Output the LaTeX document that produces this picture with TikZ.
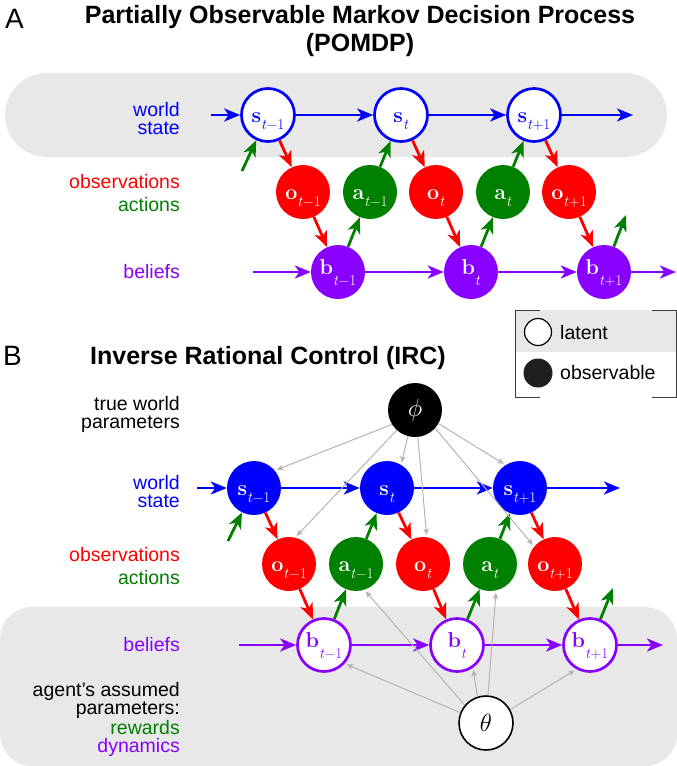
\documentclass[tikz,border=0pt]{standalone}
\usepackage{fontspec}
\newfontfamily\hv{Liberation Sans}
\newfontfamily\lmr{Latin Modern Roman}
\usetikzlibrary{arrows.meta}
\definecolor{cblue}{RGB}{0,0,255}
\definecolor{cred}{RGB}{255,0,0}
\definecolor{cgreen}{RGB}{0,128,0}
\definecolor{cpurple}{RGB}{136,0,255}
\definecolor{band}{RGB}{232,232,232}
\definecolor{garrow}{RGB}{180,180,180}
\definecolor{legline}{RGB}{60,60,60}
% variable with lowered subscript: letter, subscript, drop
\newcommand{\vsub}[3]{{\lmr\bfseries\fontsize{21.5}{24}\selectfont #1}\raisebox{-#3}{\lmr\fontsize{15}{15}\selectfont #2}}
\newcommand{\ti}{\textit{t}}
\tikzset{
  lbl/.style={font=\hv\fontsize{19.5}{18}\selectfont, align=right, anchor=base east, inner sep=0pt},
  ttl/.style={font=\hv\bfseries\fontsize{25}{28}\selectfont, anchor=base, inner sep=0pt},
  panel/.style={font=\hv\fontsize{28}{30}\selectfont, anchor=base west, inner sep=0pt},
  var/.style={circle, inner sep=0pt, font=\lmr\fontsize{20}{24}\selectfont},
  lowx/.style={text height=15pt, text depth=0pt},
  lowb/.style={text height=5pt, text depth=0pt},
  filled/.style={var, minimum size=54pt, fill=#1, text=white},
  hollow/.style={var, minimum size=53pt, draw=#1, line width=2.7pt, fill=white, text=#1},
  arr/.style={line width=2.8pt, draw=#1, -{Stealth[length=16pt,width=13pt,inset=4.5pt]}},
  garr/.style={draw=garrow, line width=1pt, -{Stealth[length=6.5pt,width=5.5pt,inset=1.5pt]}, shorten >=2pt},
  legtxt/.style={font=\hv\fontsize{19.5}{18}\selectfont, anchor=base west, inner sep=0pt},
  legl/.style={draw=legline, line width=1pt}
}
\begin{document}
\begin{tikzpicture}[x=1pt,y=-1pt]
\useasboundingbox (0,0) rectangle (677,766);
% bands
\fill[band, rounded corners=42pt] (5,73) rectangle (667,157);
\fill[band, rounded corners=32pt] (0,607) rectangle (677,766);
% titles
\node[panel] (lA) at (5,28) {A};
\node[ttl] (tA1) at (360,23) {Partially Observable Markov Decision Process};
\node[ttl] (tA2) at (360,51) {(POMDP)};
\node[panel] (lB) at (3,365) {B};
\node[ttl] (tB) at (268,364) {Inverse Rational Control (IRC)};
% legend
\fill[band] (515,310) rectangle (676,352);
\draw[legl] (540,310) -- (515,310) -- (515,397) -- (540,397);
\draw[legl] (652,310) -- (676,310) -- (676,397) -- (652,397);
\node[circle, draw=black, line width=1.2pt, fill=white, minimum size=27pt, inner sep=0pt] (legLat) at (538,332) {};
\node[circle, fill=black!88, minimum size=29pt, inner sep=0pt] (legObs) at (538,373) {};
\node[legtxt] (legLatT) at (560,339) {latent};
\node[legtxt] (legObsT) at (560,379) {observable};
% ---------- Panel A labels
\node[lbl, text=cblue] (Aws) at (180,134) {world\\state};
\node[lbl, text=cred] (Aobs) at (180,188) {observations};
\node[lbl, text=cgreen] (Aact) at (180,211) {actions};
\node[lbl, text=cpurple] (Abel) at (180,278) {beliefs};
% Panel A nodes
\node[hollow=cblue, lowx] (As1) at (268,115) {\vsub{s}{\ti−1}{6.5pt}};
\node[hollow=cblue, lowx] (As2) at (401,115) {\vsub{s}{\ti}{6.5pt}};
\node[hollow=cblue, lowx] (As3) at (534,115) {\vsub{s}{\ti+1}{6.5pt}};
\node[filled=cred, lowx] (Ao1) at (303,192) {\vsub{o}{\ti−1}{6.5pt}};
\node[filled=cgreen, lowx] (Aa1) at (370,192) {\vsub{a}{\ti−1}{6.5pt}};
\node[filled=cred, lowx] (Ao2) at (436,192) {\vsub{o}{\ti}{6.5pt}};
\node[filled=cgreen, lowx] (Aa2) at (503,192) {\vsub{a}{\ti}{6.5pt}};
\node[filled=cred, lowx] (Ao3) at (569,192) {\vsub{o}{\ti+1}{6.5pt}};
\node[filled=cpurple, lowb] (Ab1) at (338,272) {\vsub{b}{\ti−1}{11pt}};
\node[filled=cpurple, lowb] (Ab2) at (471,272) {\vsub{b}{\ti}{11pt}};
\node[filled=cpurple, lowb] (Ab3) at (604,272) {\vsub{b}{\ti+1}{11pt}};
\coordinate (Ain) at (211,115);
\coordinate (Aout) at (633,115);
\coordinate (bAin) at (253,272);
\coordinate (bAout) at (676,272);
\coordinate (gAin) at (242,171);
\coordinate (gAout) at (626,215);
% Panel A edges
\draw[arr=cblue] (Ain) -- (As1);
\draw[arr=cblue] (As1) -- (As2);
\draw[arr=cblue] (As2) -- (As3);
\draw[arr=cblue] (As3) -- (Aout);
\draw[arr=cred] (As1) -- (Ao1);
\draw[arr=cred] (As2) -- (Ao2);
\draw[arr=cred] (As3) -- (Ao3);
\draw[arr=cred] (Ao1) -- (Ab1);
\draw[arr=cred] (Ao2) -- (Ab2);
\draw[arr=cred] (Ao3) -- (Ab3);
\draw[arr=cgreen] (gAin) -- (As1);
\draw[arr=cgreen] (Aa1) -- (As2);
\draw[arr=cgreen] (Aa2) -- (As3);
\draw[arr=cgreen] (Ab1) -- (Aa1);
\draw[arr=cgreen] (Ab2) -- (Aa2);
\draw[arr=cgreen] (Ab3) -- (gAout);
\draw[arr=cpurple] (bAin) -- (Ab1);
\draw[arr=cpurple] (Ab1) -- (Ab2);
\draw[arr=cpurple] (Ab2) -- (Ab3);
\draw[arr=cpurple] (Ab3) -- (bAout);
% ---------- Panel B labels
\node[lbl] (Btw) at (180,428) {true world\\parameters};
\node[lbl, text=cblue] (Bws) at (180,507) {world\\state};
\node[lbl, text=cred] (Bobs) at (180,561) {observations};
\node[lbl, text=cgreen] (Bact) at (180,584) {actions};
\node[lbl, text=cpurple] (Bbel) at (180,651) {beliefs};
\node[lbl] (Bagent) at (180,752) {agent’s assumed\\parameters:\\{\color{cgreen}rewards}\\{\color{cpurple}dynamics}};
% Panel B nodes
\node[filled=black, font=\fontsize{27}{28}\selectfont] (phi) at (415,410) {$\phi$};
\node[filled=cblue, lowx] (Bs1) at (254,488) {\vsub{s}{\ti−1}{6.5pt}};
\node[filled=cblue, lowx] (Bs2) at (387,488) {\vsub{s}{\ti}{6.5pt}};
\node[filled=cblue, lowx] (Bs3) at (520,488) {\vsub{s}{\ti+1}{6.5pt}};
\node[filled=cred, lowx] (Bo1) at (289,564) {\vsub{o}{\ti−1}{6.5pt}};
\node[filled=cgreen, lowx] (Ba1) at (356,564) {\vsub{a}{\ti−1}{6.5pt}};
\node[filled=cred, lowx] (Bo2) at (423,564) {\vsub{o}{\ti}{6.5pt}};
\node[filled=cgreen, lowx] (Ba2) at (490,564) {\vsub{a}{\ti}{6.5pt}};
\node[filled=cred, lowx] (Bo3) at (555,564) {\vsub{o}{\ti+1}{6.5pt}};
\node[hollow=cpurple, lowb] (Bb1) at (324,645) {\vsub{b}{\ti−1}{11pt}};
\node[hollow=cpurple, lowb] (Bb2) at (457,645) {\vsub{b}{\ti}{11pt}};
\node[hollow=cpurple, lowb] (Bb3) at (590,645) {\vsub{b}{\ti+1}{11pt}};
\node[circle, inner sep=0pt, minimum size=54pt, draw=black, line width=1.6pt, fill=white, font=\fontsize{28}{30}\selectfont] (theta) at (486,723) {$\theta$};
\coordinate (Bin) at (197,488);
\coordinate (Bout) at (620,488);
\coordinate (bBin) at (239,645);
\coordinate (bBout) at (663,645);
\coordinate (gBin) at (228,541);
\coordinate (gBout) at (613,588);
% Panel B edges
\draw[arr=cblue] (Bin) -- (Bs1);
\draw[arr=cblue] (Bs1) -- (Bs2);
\draw[arr=cblue] (Bs2) -- (Bs3);
\draw[arr=cblue] (Bs3) -- (Bout);
\draw[arr=cred] (Bs1) -- (Bo1);
\draw[arr=cred] (Bs2) -- (Bo2);
\draw[arr=cred] (Bs3) -- (Bo3);
\draw[arr=cred] (Bo1) -- (Bb1);
\draw[arr=cred] (Bo2) -- (Bb2);
\draw[arr=cred] (Bo3) -- (Bb3);
\draw[arr=cgreen] (gBin) -- (Bs1);
\draw[arr=cgreen] (Ba1) -- (Bs2);
\draw[arr=cgreen] (Ba2) -- (Bs3);
\draw[arr=cgreen] (Bb1) -- (Ba1);
\draw[arr=cgreen] (Bb2) -- (Ba2);
\draw[arr=cgreen] (Bb3) -- (gBout);
\draw[arr=cpurple] (bBin) -- (Bb1);
\draw[arr=cpurple] (Bb1) -- (Bb2);
\draw[arr=cpurple] (Bb2) -- (Bb3);
\draw[arr=cpurple] (Bb3) -- (bBout);
% gray parameter arrows
\draw[garr] (phi.212) -- (Bs1.40);
\draw[garr] (phi.228) -- (Bo1.77);
\draw[garr] (phi.255) -- (Bs2.59);
\draw[garr] (phi.276) -- (Bo2.82);
\draw[garr] (phi.318) -- (Bo3.140);
\draw[garr] (phi.330) -- (Bs3.122);
\draw[garr] (theta.158) -- (Bb1.318);
\draw[garr] (theta.140) -- (Ba1.288);
\draw[garr] (theta.108) -- (Bb2.305);
\draw[garr] (theta.86) -- (Ba2.283);
\draw[garr] (theta.29) -- (Bb3.241);
\end{tikzpicture}
\end{document}
